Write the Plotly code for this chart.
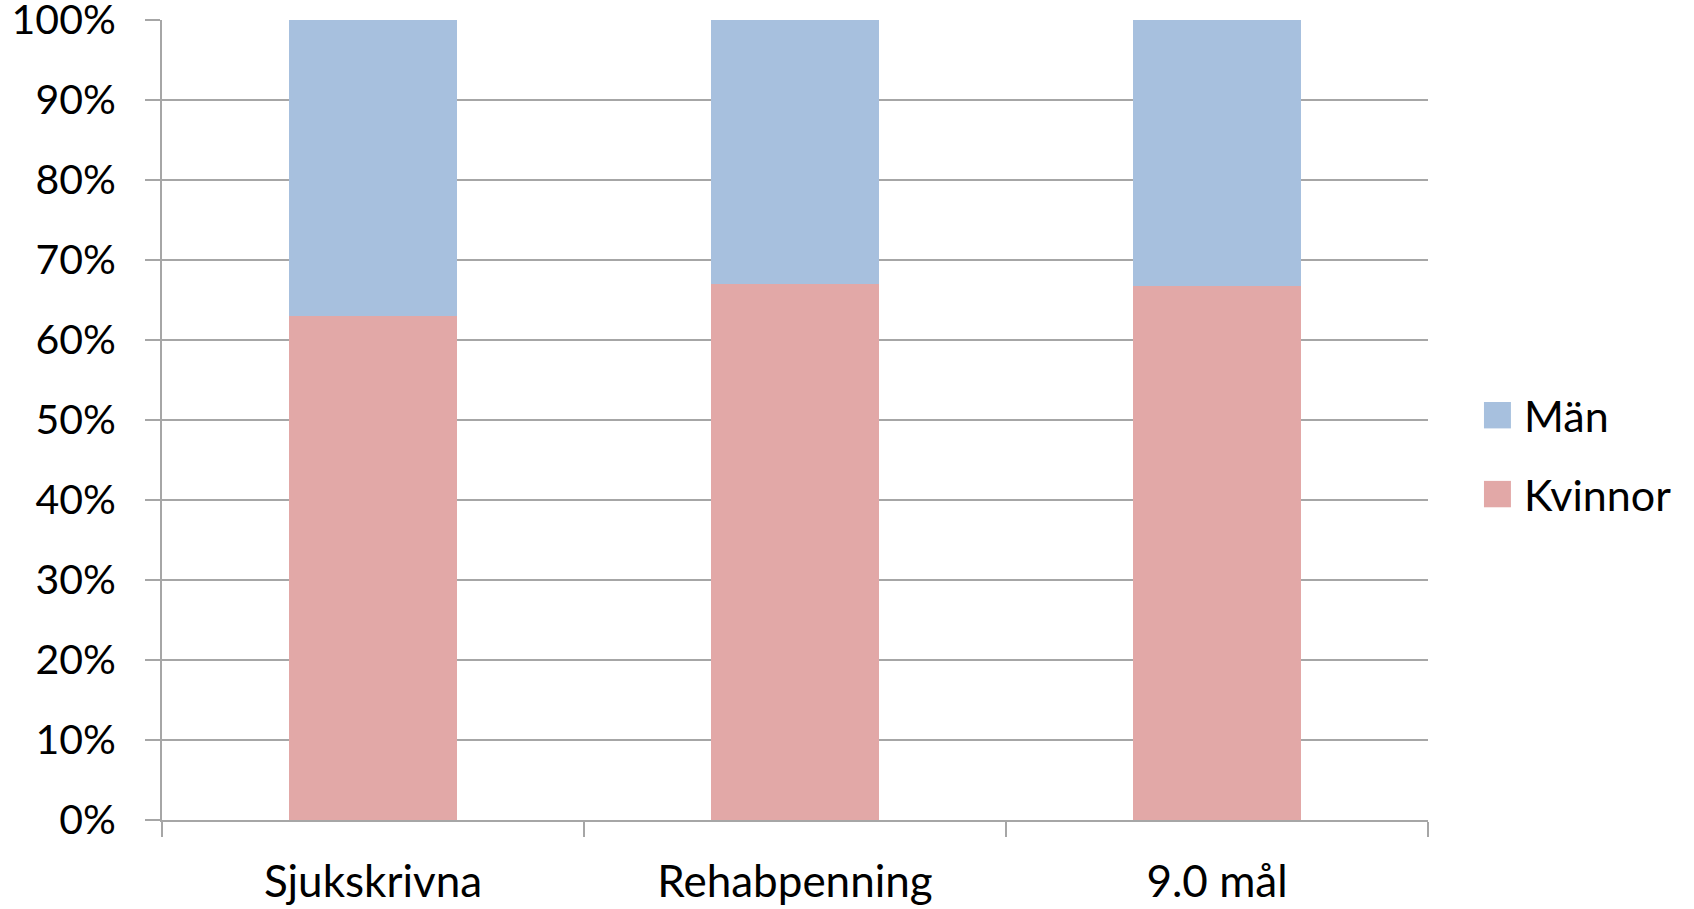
import plotly.graph_objects as go

categories = ["Sjukskrivna", "Rehabpenning", "9.0 mål"]
kvinnor = [63.0, 67.0, 66.8]
man = [37.0, 33.0, 33.2]

series = [
    ("Kvinnor", kvinnor, "#E2A8A7"),
    ("Män", man, "#A7C0DE"),
]

FONT = "Lato, Calibri, sans-serif"
GRID = "#A6A6A6"

fig = go.Figure()
for name, vals, color in series:
    fig.add_trace(go.Bar(
        x=categories, y=vals, name=name,
        marker=dict(color=color, line=dict(width=0)),
        width=0.4, showlegend=False,
    ))

# legend drawn by hand so the swatches can be as big as the original
for i, (name, vals, color) in enumerate(reversed(series)):
    yc = 0.506 - i * 0.0986
    fig.add_shape(type="rect", xref="paper", yref="paper",
                  x0=1.0442, x1=1.0655, y0=yc - 0.0165, y1=yc + 0.0165,
                  fillcolor=color, line_width=0)
    fig.add_annotation(text=name, xref="paper", yref="paper", x=1.074, y=yc,
                       xanchor="left", yanchor="middle", showarrow=False,
                       font=dict(size=43, color="black", family=FONT))

fig.update_layout(
    barmode="stack",
    width=1694, height=909,
    paper_bgcolor="white", plot_bgcolor="white",
    margin=dict(l=161.5, r=266, t=20, b=89),
    font=dict(family=FONT, size=40, color="black"),
)
fig.update_xaxes(
    showline=True, linecolor=GRID, linewidth=2,
    ticks="outside", tickson="boundaries", ticklen=15, tickcolor=GRID, tickwidth=2,
    showgrid=False, ticklabelstandoff=22, tickfont=dict(size=44),
    automargin=False, ticklabeloverflow="allow",
)
fig.update_yaxes(
    range=[0, 100], dtick=10, ticksuffix="%",
    showline=True, linecolor=GRID, linewidth=2,
    ticks="outside", ticklen=15, tickcolor=GRID, tickwidth=2,
    showgrid=True, gridcolor=GRID, gridwidth=2, zeroline=False,
    ticklabelstandoff=21, tickfont=dict(size=41),
    automargin=False, ticklabeloverflow="allow",
)

# page body has a default 8px margin; drop it so the figure fills the window
fig.write_html("out.html", config={"displayModeBar": False},
               post_script="document.body.style.margin='0';")
